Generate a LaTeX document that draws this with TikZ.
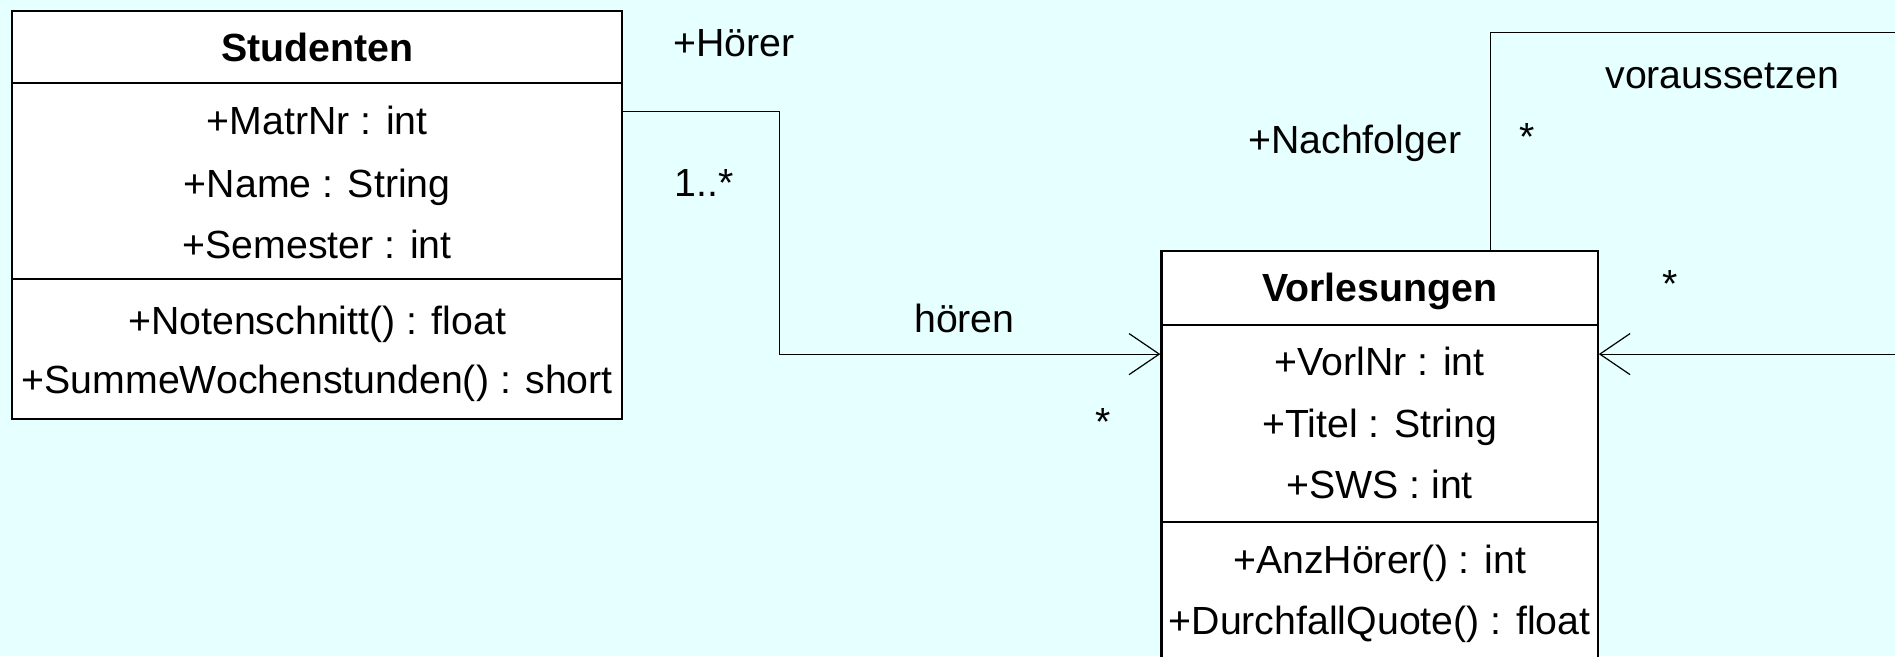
\documentclass[tikz,border=0pt]{standalone}
\usepackage{fontspec}
\setmainfont{Liberation Sans}
\usetikzlibrary{arrows.meta}
\definecolor{bgc}{RGB}{230,255,255}
\begin{document}
\begin{tikzpicture}[x=1pt,y=-1pt,
  box/.style={draw=black, line width=1.8pt, fill=white, inner sep=0pt},
  txt/.style={inner sep=0pt, anchor=base, font=\fontsize{32.5}{39}\selectfont},
  ttl/.style={inner sep=0pt, anchor=base, font=\fontsize{32.5}{39}\selectfont\bfseries},
  conn/.style={draw=black, line width=1pt},
  head/.style={-{Straight Barb[length=25pt,width=34pt,line width=1pt]}}
]
\useasboundingbox (0,0) rectangle (1568,543);
\fill[bgc] (0,0) rectangle (1568,543);
\clip (0,0) rectangle (1568,543);

% Studenten
\node[box, minimum width=505pt, minimum height=60pt] (sH) at (262.5,39) {};
\node[box, minimum width=505pt, minimum height=162pt] (sA) at (262.5,150) {};
\node[box, minimum width=505pt, minimum height=116pt] (sM) at (262.5,289) {};
\node[ttl] (sT) at (262.5,50.6) {Studenten};
\node[txt] (s1) at (262.5,111.6) {+MatrNr : int};
\node[txt] (s2) at (262.5,163.6) {+Name : String};
\node[txt] (s3) at (262.5,213.6) {+Semester : int};
\node[txt] (s4) at (262.5,276.6) {+Notenschnitt() : float};
\node[txt] (s5) at (262.5,325.6) {+SummeWochenstunden() : short};

% Vorlesungen
\node[box, minimum width=361pt, minimum height=61pt] (vH) at (1141.5,238.5) {};
\node[box, minimum width=361pt, minimum height=163pt] (vA) at (1141.5,350.5) {};
\node[box, minimum width=361pt, minimum height=148pt] (vM) at (1141.5,506) {};
\node[ttl] (vT) at (1141.5,249.6) {Vorlesungen};
\node[txt] (v1) at (1141.5,310.6) {+VorlNr : int};
\node[txt] (v2) at (1141.5,361.6) {+Titel : String};
\node[txt] (v3) at (1141.5,412.6) {+SWS : int};
\node[txt] (v4) at (1141.5,474.6) {+AnzHörer() : int};
\node[txt] (v5) at (1141.5,524.6) {+DurchfallQuote() : float};

% hören
\coordinate (h1) at (645,92);
\coordinate (h2) at (645,293);
\draw[conn,head] (sA.east |- h1) -- (h1) -- (h2) -- (vA.west |- h2);

% voraussetzen
\coordinate (c1) at (1233,27);
\coordinate (c2) at (1620,27);
\coordinate (c3) at (1620,293);
\draw[conn,head] (vH.north -| c1) -- (c1) -- (c2) -- (c3) -- (vA.east |- c3);

% labels
\node[txt] (lHoerer) at (607.5,46.5) {+Hörer};
\node[txt] (lMult) at (582.5,163) {1..*};
\node[txt] (lhoeren) at (798,275) {hören};
\node[txt] (lst1) at (913,360) {*};
\node[txt] (lvor) at (1425,73) {voraussetzen};
\node[txt] (lnach) at (1121,127) {+Nachfolger};
\node[txt] (lst2) at (1264,124.5) {*};
\node[txt] (lst3) at (1382,246) {*};
\end{tikzpicture}
\end{document}
